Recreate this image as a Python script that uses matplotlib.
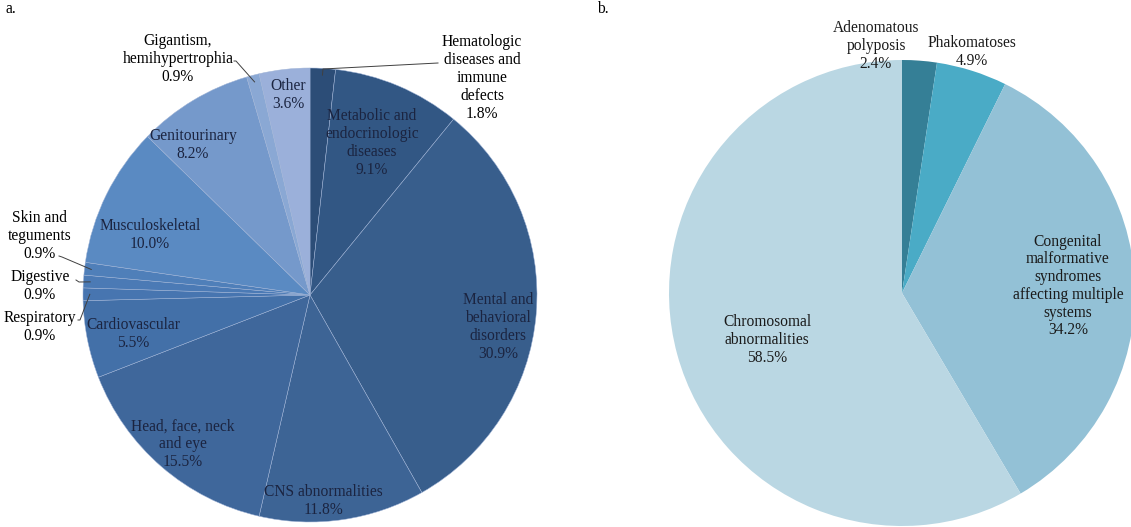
import numpy as np
import matplotlib.pyplot as plt

plt.rcParams["font.family"] = ["Liberation Serif", "DejaVu Serif"]

# panel a: body systems (clockwise from 12 o'clock)
a_labels = ["Hematologic\ndiseases and\nimmune\ndefects", "Metabolic and\nendocrinologic\ndiseases",
            "Mental and\nbehavioral\ndisorders", "CNS abnormalities", "Head, face, neck\nand eye",
            "Cardiovascular", "Respiratory", "Digestive", "Skin and\nteguments",
            "Musculoskeletal", "Genitourinary", "Gigantism,\nhemihypertrophia", "Other"]
a_values = [1.8, 9.1, 30.9, 11.8, 15.5, 5.5, 0.9, 0.9, 0.9, 10.0, 8.2, 0.9, 3.6]
a_colors = ["#2c4d77", "#325784", "#385e8c", "#3d6495", "#3f679b", "#4370a8", "#4775b0",
            "#4b7ab5", "#4f7fb9", "#5a8ac2", "#7599cb", "#8aa8d4", "#9bb0da"]

# panel b: syndromes
b_labels = ["Adenomatous\npolyposis", "Phakomatoses",
            "Congenital\nmalformative\nsyndromes\naffecting multiple\nsystems",
            "Chromosomal\nabnormalities"]
b_values = [2.4, 4.9, 34.2, 58.5]
b_colors = ["#357f96", "#4aabc6", "#93c1d6", "#bad7e3"]

W, H = 1131, 527


def fy(y):
    return H - y


fig = plt.figure(figsize=(W / 100, H / 100), dpi=100)
ax = fig.add_axes([0, 0, 1, 1])

a_c, a_r = (310, fy(295)), 227
b_c, b_r = (902, fy(293)), 233

wa, _ = ax.pie(a_values, colors=a_colors, startangle=90, counterclock=False,
               center=a_c, radius=a_r, frame=True,
               wedgeprops=dict(edgecolor="#9fb3d6", linewidth=0.35))
wb, _ = ax.pie(b_values, colors=b_colors, startangle=90, counterclock=False,
               center=b_c, radius=b_r, frame=True,
               wedgeprops=dict(edgecolor="none"))

ax.set_xlim(0, W)
ax.set_ylim(0, H)
ax.set_aspect("equal")
ax.axis("off")

fs = 11.2
ls = 1.15
inside = "#1b2440"

# label positions (pixel coords of text block centre) and leader start points
a_pos = [(482, 78), (372, 143), (498, 327), (323, 501), (183, 444), (133, 334),
         (40, 327), (40, 286), (40, 236), (150, 235), (193, 145), (178, 59), (288, 95)]
a_out = [True, False, False, False, False, False, True, True, True, False, False, True, False]
a_lead = {0: [(438, 63), (323, 69)], 6: [(78, 320), (80, 320)], 7: [(76, 280), (79, 282)],
          8: [(59, 256), (62, 257)], 11: [(234, 61), (236, 61)]}

for i, (lab, v) in enumerate(zip(a_labels, a_values)):
    x, y = a_pos[i]
    ax.text(x, fy(y), f"{lab}\n{v:.1f}%", ha="center", va="center", fontsize=fs,
            color="black" if a_out[i] else inside, linespacing=ls)
    if i in a_lead:
        w = wa[i]
        th = np.deg2rad((w.theta1 + w.theta2) / 2)
        ex, ey = a_c[0] + 0.97 * a_r * np.cos(th), a_c[1] + 0.97 * a_r * np.sin(th)
        pts = a_lead[i]
        xs = [p[0] for p in pts] + [ex]
        ys = [fy(p[1]) for p in pts] + [ey]
        ax.plot(xs, ys, color="#404040", lw=0.7)

b_pos = [(876, 46), (972, 52), (1068, 286), (767, 340)]
for i, (lab, v) in enumerate(zip(b_labels, b_values)):
    x, y = b_pos[i]
    ax.text(x, fy(y), f"{lab}\n{v:.1f}%", ha="center", va="center", fontsize=fs,
            color="#1a1a1a", linespacing=ls)

ax.text(6, fy(9), "a.", fontsize=fs, va="center", ha="left")
ax.text(597, fy(9), "b.", fontsize=fs, va="center", ha="left")

fig.savefig("out.png", dpi=100)
